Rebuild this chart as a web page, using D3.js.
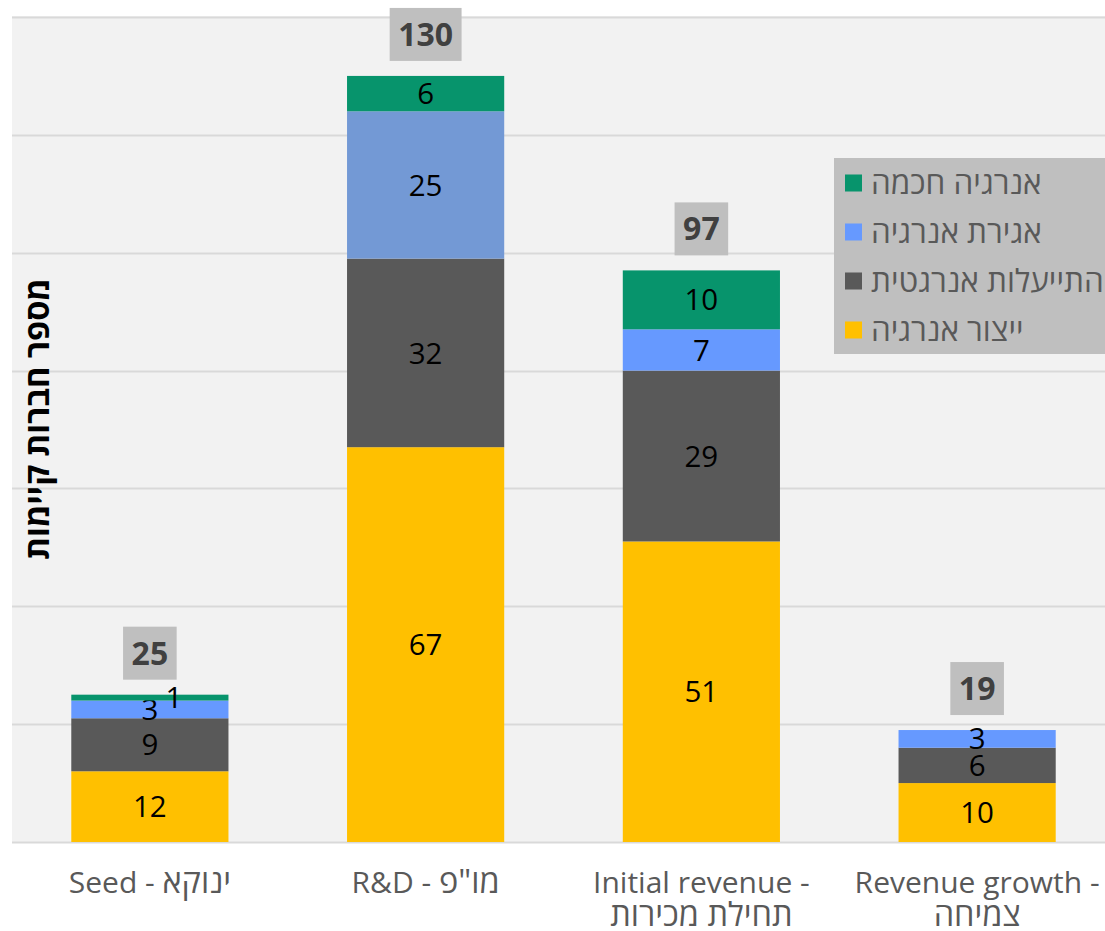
<!DOCTYPE html>
<html>
<head>
<meta charset="utf-8">
<script src="https://cdn.jsdelivr.net/npm/d3@7"></script>
<style>
  html, body { margin: 0; padding: 0; background: #ffffff; }
  svg { display: block; font-family: "Open Sans", "DejaVu Sans", sans-serif; }
</style>
</head>
<body>
<svg id="chart" width="1105" height="931"></svg>
<script>
// Company stage categories (x axis)
const categories = ["Seed - ינוקא", "R&D - מו\"פ", "Initial revenue - תחילת מכירות", "Revenue growth - צמיחה"];
// Each label line as [latin part, hebrew part]
const categoryLines = [
  [["Seed - ", "ינוקא"]],
  [["R&D - ", "מו\"פ"]],
  [["Initial revenue -", ""], ["", "תחילת מכירות"]],
  [["Revenue growth -", ""], ["", "צמיחה"]]
];

// Series, stacked from bottom to top
const seriesNames = ["ייצור אנרגיה", "התייעלות אנרגטית", "אגירת אנרגיה", "אנרגיה חכמה"];
const energyProduction = [12, 67, 51, 10];
const energyEfficiency = [9, 32, 29, 6];
const energyStorage = [3, 25, 7, 3];
const smartEnergy = [1, 6, 10, 0];

const yTicks = [0, 20, 40, 60, 80, 100, 120, 140];
const yTitle = "מספר חברות קיימות";

const seriesValues = [energyProduction, energyEfficiency, energyStorage, smartEnergy];
const seriesColors = ["#FFC000", "#595959", "#6699FF", "#07946C"];

const rows = categories.map((c, i) => {
  const r = { category: c };
  seriesNames.forEach((s, k) => { r[s] = seriesValues[k][i]; });
  return r;
});
const totals = categories.map((c, i) => d3.sum(seriesValues, v => v[i]));

const svg = d3.select("#chart");
const plot = { left: 12, right: 1115, top: 16, bottom: 842 };

const x = d3.scaleBand()
  .domain(categories)
  .range([plot.left, plot.right])
  .paddingInner(0.43)
  .paddingOuter(0.215);

const y = d3.scaleLinear()
  .domain([0, 140])
  .range([plot.bottom, plot.top + 1]);

// Plot area background
svg.append("rect")
  .attr("x", plot.left).attr("y", plot.top)
  .attr("width", 1105 - plot.left).attr("height", plot.bottom - plot.top)
  .attr("fill", "#F2F2F2");

// Horizontal gridlines
svg.append("g")
  .selectAll("line")
  .data(yTicks)
  .join("line")
  .attr("x1", plot.left).attr("x2", 1105)
  .attr("y1", d => Math.round(y(d)) + 0.5)
  .attr("y2", d => Math.round(y(d)) + 0.5)
  .attr("stroke", "#D9D9D9")
  .attr("stroke-width", 2);

// Stacked bars
const stack = d3.stack().keys(seriesNames);
const stacked = stack(rows);

// The R&D storage segment is shown in a softer blue
const segColor = (k, cat) => (k === 2 && cat === categories[1]) ? "#7399D5" : seriesColors[k];

const layers = svg.append("g").selectAll("g")
  .data(stacked)
  .join("g");

layers.selectAll("rect")
  .data((layer, k) => layer.map(d => ({ k, d, key: layer.key })))
  .join("rect")
  .attr("x", o => x(o.d.data.category))
  .attr("width", x.bandwidth())
  .attr("y", o => y(o.d[1]))
  .attr("height", o => y(o.d[0]) - y(o.d[1]))
  .attr("fill", o => segColor(o.k, o.d.data.category));

// Segment value labels
const labelNudge = (o) => (o.k === 3 && o.d.data.category === categories[0]) ? 24 : 0;
layers.selectAll("text")
  .data((layer, k) => layer.map(d => ({ k, d, v: d[1] - d[0] })).filter(o => o.v > 0))
  .join("text")
  .attr("x", o => x(o.d.data.category) + x.bandwidth() / 2 + labelNudge(o))
  .attr("y", o => (y(o.d[0]) + y(o.d[1])) / 2)
  .attr("dy", "0.36em")
  .attr("text-anchor", "middle")
  .attr("font-size", 29.5)
  .attr("fill", "#000000")
  .text(o => o.v);

// Total labels in grey boxes
const totalG = svg.append("g").selectAll("g")
  .data(categories.map((c, i) => ({ c, t: totals[i] })))
  .join("g")
  .attr("transform", d => `translate(${x(d.c) + x.bandwidth() / 2},${y(d.t) - 15})`);

totalG.each(function (d) {
  const g = d3.select(this);
  const txt = g.append("text")
    .attr("text-anchor", "middle")
    .attr("y", -26.5)
    .attr("dy", "0.36em")
    .attr("font-size", 32)
    .attr("font-weight", "bold")
    .attr("fill", "#404040")
    .text(d.t);
  const w = txt.node().getComputedTextLength() + 17;
  g.insert("rect", "text")
    .attr("x", -w / 2).attr("y", -53)
    .attr("width", w).attr("height", 53)
    .attr("fill", "#BFBFBF");
});

// Category labels (latin part and larger hebrew part)
const catG = svg.append("g").selectAll("g")
  .data(categories.map((c, i) => ({ c, lines: categoryLines[i] })))
  .join("g");
catG.each(function (d) {
  const cx = x(d.c) + x.bandwidth() / 2;
  d.lines.forEach((parts, j) => {
    const t = d3.select(this).append("text")
      .attr("x", cx)
      .attr("y", 893 + j * 33)
      .attr("text-anchor", "middle")
      .attr("fill", "#595959");
    if (parts[0]) t.append("tspan").attr("font-size", 30).text(parts[0]);
    if (parts[1]) t.append("tspan").attr("font-size", 32.5).text(parts[1]);
  });
});

// Y axis title
svg.append("text")
  .attr("transform", "translate(37,419) rotate(-90)")
  .attr("text-anchor", "middle")
  .attr("dy", "0.36em")
  .attr("font-size", 32.5)
  .attr("font-weight", "bold")
  .attr("fill", "#000000")
  .text(yTitle);

// Legend (top to bottom mirrors the stack)
const legend = svg.append("g");
legend.append("rect")
  .attr("x", 834).attr("y", 158)
  .attr("width", 280).attr("height", 196)
  .attr("fill", "#BFBFBF");
const legendOrder = [3, 2, 1, 0];
const legendItems = legend.selectAll("g.item")
  .data(legendOrder)
  .join("g")
  .attr("class", "item")
  .attr("transform", (k, i) => `translate(845,${183 + i * 49})`);
legendItems.append("rect")
  .attr("x", 0).attr("y", -8.5)
  .attr("width", 17).attr("height", 17)
  .attr("fill", k => seriesColors[k]);
legendItems.append("text")
  .attr("x", 26)
  .attr("dy", "0.36em")
  .attr("font-size", 31.5)
  .attr("fill", "#595959")
  .text(k => seriesNames[k]);
</script>
</body>
</html>
